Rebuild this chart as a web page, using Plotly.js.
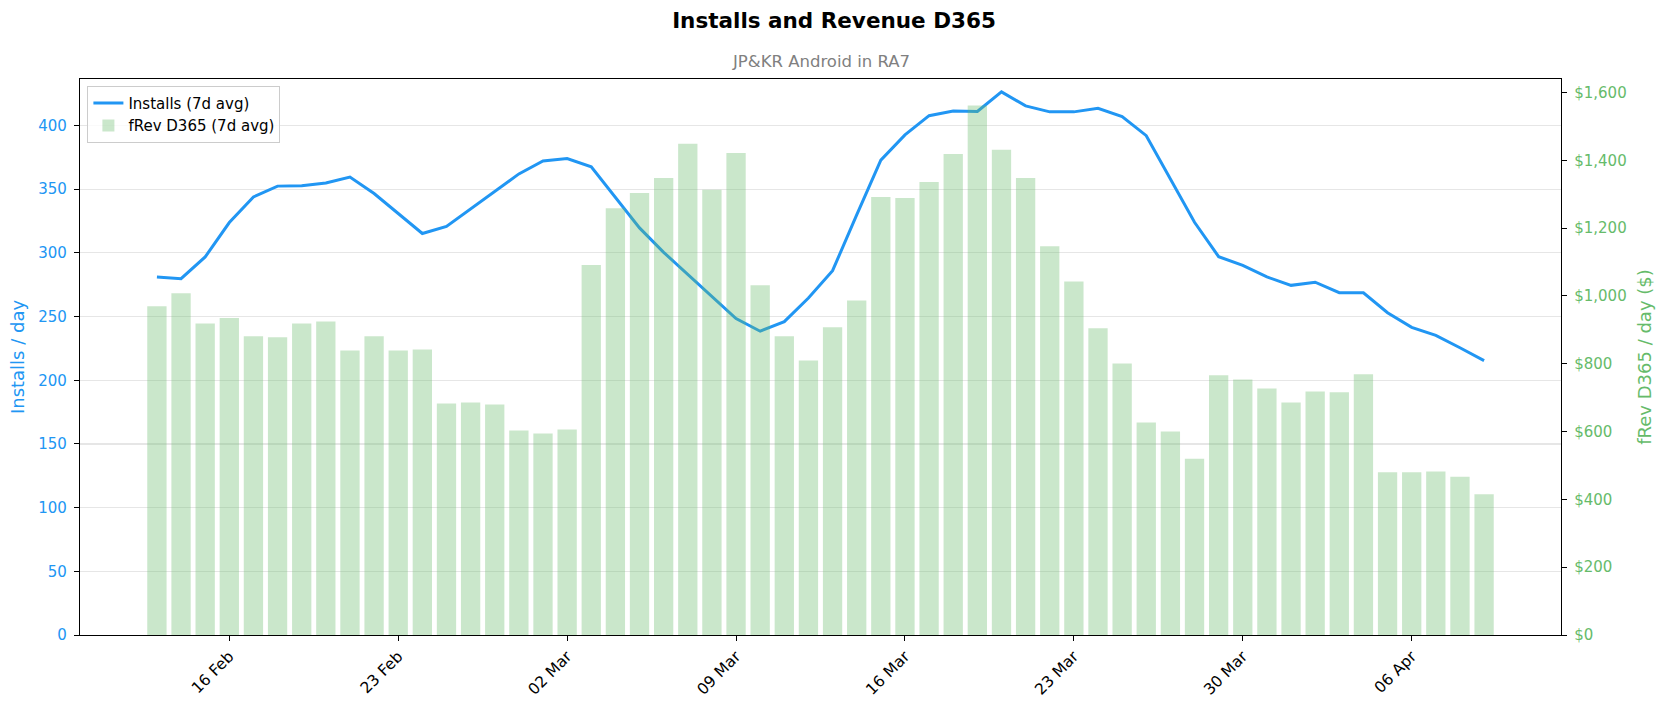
<!DOCTYPE html>
<html>
<head>
<meta charset="utf-8">
<script src="https://cdn.plot.ly/plotly-3.0.1.min.js"></script>
<style>
  html, body { margin: 0; padding: 0; background: #fff; }
  #graph { width: 1668px; height: 712px; }
</style>
</head>
<body>
<div id="graph"></div>
<script>
// dates (one point per day)
var dates = [
    '2025-02-13', '2025-02-14', '2025-02-15', '2025-02-16', '2025-02-17', '2025-02-18', '2025-02-19',
    '2025-02-20', '2025-02-21', '2025-02-22', '2025-02-23', '2025-02-24', '2025-02-25', '2025-02-26',
    '2025-02-27', '2025-02-28', '2025-03-01', '2025-03-02', '2025-03-03', '2025-03-04', '2025-03-05',
    '2025-03-06', '2025-03-07', '2025-03-08', '2025-03-09', '2025-03-10', '2025-03-11', '2025-03-12',
    '2025-03-13', '2025-03-14', '2025-03-15', '2025-03-16', '2025-03-17', '2025-03-18', '2025-03-19',
    '2025-03-20', '2025-03-21', '2025-03-22', '2025-03-23', '2025-03-24', '2025-03-25', '2025-03-26',
    '2025-03-27', '2025-03-28', '2025-03-29', '2025-03-30', '2025-03-31', '2025-04-01', '2025-04-02',
    '2025-04-03', '2025-04-04', '2025-04-05', '2025-04-06', '2025-04-07', '2025-04-08', '2025-04-09'
];

// installs / day, 7d avg
var installs = [
    281.1, 279.7, 296.8, 323.8, 343.9, 352.4, 352.7,
    354.9, 359.5, 346.6, 330.9, 315.2, 320.7, 334.5,
    348.5, 362.0, 372.2, 374.1, 367.5, 344.0, 319.6,
    300.4, 283.0, 265.4, 248.4, 238.5, 246.0, 264.6,
    286.0, 329.8, 372.8, 392.6, 407.7, 411.3, 411.0,
    426.4, 415.4, 410.7, 410.7, 413.5, 407.0, 392.0,
    357.6, 324.0, 297.0, 290.2, 281.1, 274.5, 277.0,
    268.7, 268.7, 253.0, 241.5, 235.2, 225.5, 215.4
];

// fRev D365 / day ($), 7d avg
var revenue = [
    970, 1008, 919, 935, 881, 878, 919,
    925, 839, 881, 839, 842, 683, 686,
    680, 603, 594, 606, 1091, 1259, 1304,
    1348, 1449, 1313, 1422, 1032, 881, 810,
    908, 987, 1292, 1289, 1336, 1419, 1562,
    1431, 1348, 1147, 1043, 905, 801, 627,
    600, 520, 766, 754, 727, 686, 718,
    716, 769, 480, 480, 482, 467, 415
];

var BLUE = '#2196F3';
var GREEN = '#66BB6A';
var FONT = 'DejaVu Sans, sans-serif';
var DAY = 86400000;

var installsTrace = {
    x: dates,
    y: installs,
    type: 'scatter',
    mode: 'lines',
    name: 'Installs (7d avg)',
    line: { color: BLUE, width: 3 },
    yaxis: 'y'
};

// bars sit on the right axis, drawn over the line
var revenueTrace = {
    x: dates,
    y: revenue,
    type: 'bar',
    name: 'fRev D365 (7d avg)',
    width: 0.8 * DAY,
    marker: { color: 'rgba(102,187,106,0.35)', line: { width: 0 } },
    yaxis: 'y2'
};

var layout = {
    width: 1668,
    height: 712,
    margin: { l: 80, r: 107, t: 79, b: 77 },
    paper_bgcolor: '#fff',
    plot_bgcolor: '#fff',
    font: { family: FONT, size: 15, color: '#000' },
    showlegend: true,
    title: {
        text: '<b>Installs and Revenue D365</b>',
        font: { family: FONT, size: 21.5, color: '#000' },
        x: 0.5, xref: 'container', xanchor: 'center',
        y: 1 - 20 / 712, yref: 'container', yanchor: 'middle'
    },
    annotations: [{
        text: 'JP&KR Android in RA7',
        xref: 'paper', yref: 'paper',
        x: 0.5, y: 1 + 17 / 556,
        xanchor: 'center', yanchor: 'middle',
        showarrow: false,
        font: { family: FONT, size: 16.5, color: '#808080' }
    }],
    legend: {
        x: 0.005, y: 0.988, xanchor: 'left', yanchor: 'top',
        bgcolor: 'rgba(255,255,255,0.8)',
        bordercolor: '#cccccc', borderwidth: 1,
        font: { family: FONT, size: 15, color: '#000' },
        tracegroupgap: 0
    },
    xaxis: {
        type: 'date',
        range: ['2025-02-09 19:30', '2025-04-12 04:30'],
        tick0: '2025-02-16',
        dtick: 7 * DAY,
        tickformat: '%d %b',
        tickangle: -45,
        ticks: 'outside', ticklen: 5, tickwidth: 1, tickcolor: '#000',
        ticklabelstandoff: 0,
        tickfont: { family: FONT, size: 15.5, color: '#000' },
        showgrid: false,
        zeroline: false,
        showline: true, linecolor: '#000', linewidth: 1.2, mirror: true
    },
    yaxis: {
        range: [0, 436.5],
        dtick: 50,
        ticks: 'outside', ticklen: 5, tickwidth: 1, tickcolor: '#000',
        ticklabelstandoff: 4,
        tickfont: { family: FONT, size: 15, color: BLUE },
        showgrid: true, gridcolor: '#e6e6e6', gridwidth: 1.2,
        zeroline: false,
        showline: true, linecolor: '#000', linewidth: 1.2,
        title: { text: 'Installs / day', font: { family: FONT, size: 18, color: BLUE }, standoff: 8 }
    },
    yaxis2: {
        overlaying: 'y',
        side: 'right',
        range: [0, 1640],
        dtick: 200,
        tickprefix: '$',
        tickformat: ',d',
        ticks: 'outside', ticklen: 5, tickwidth: 1, tickcolor: '#000',
        ticklabelstandoff: 4,
        tickfont: { family: FONT, size: 15, color: GREEN },
        showgrid: false,
        zeroline: false,
        showline: true, linecolor: '#000', linewidth: 1.2,
        title: { text: 'fRev D365 / day ($)', font: { family: FONT, size: 18, color: GREEN }, standoff: 12 }
    }
};

Plotly.newPlot('graph', [installsTrace, revenueTrace], layout, { displayModeBar: false, staticPlot: true });
</script>
</body>
</html>
